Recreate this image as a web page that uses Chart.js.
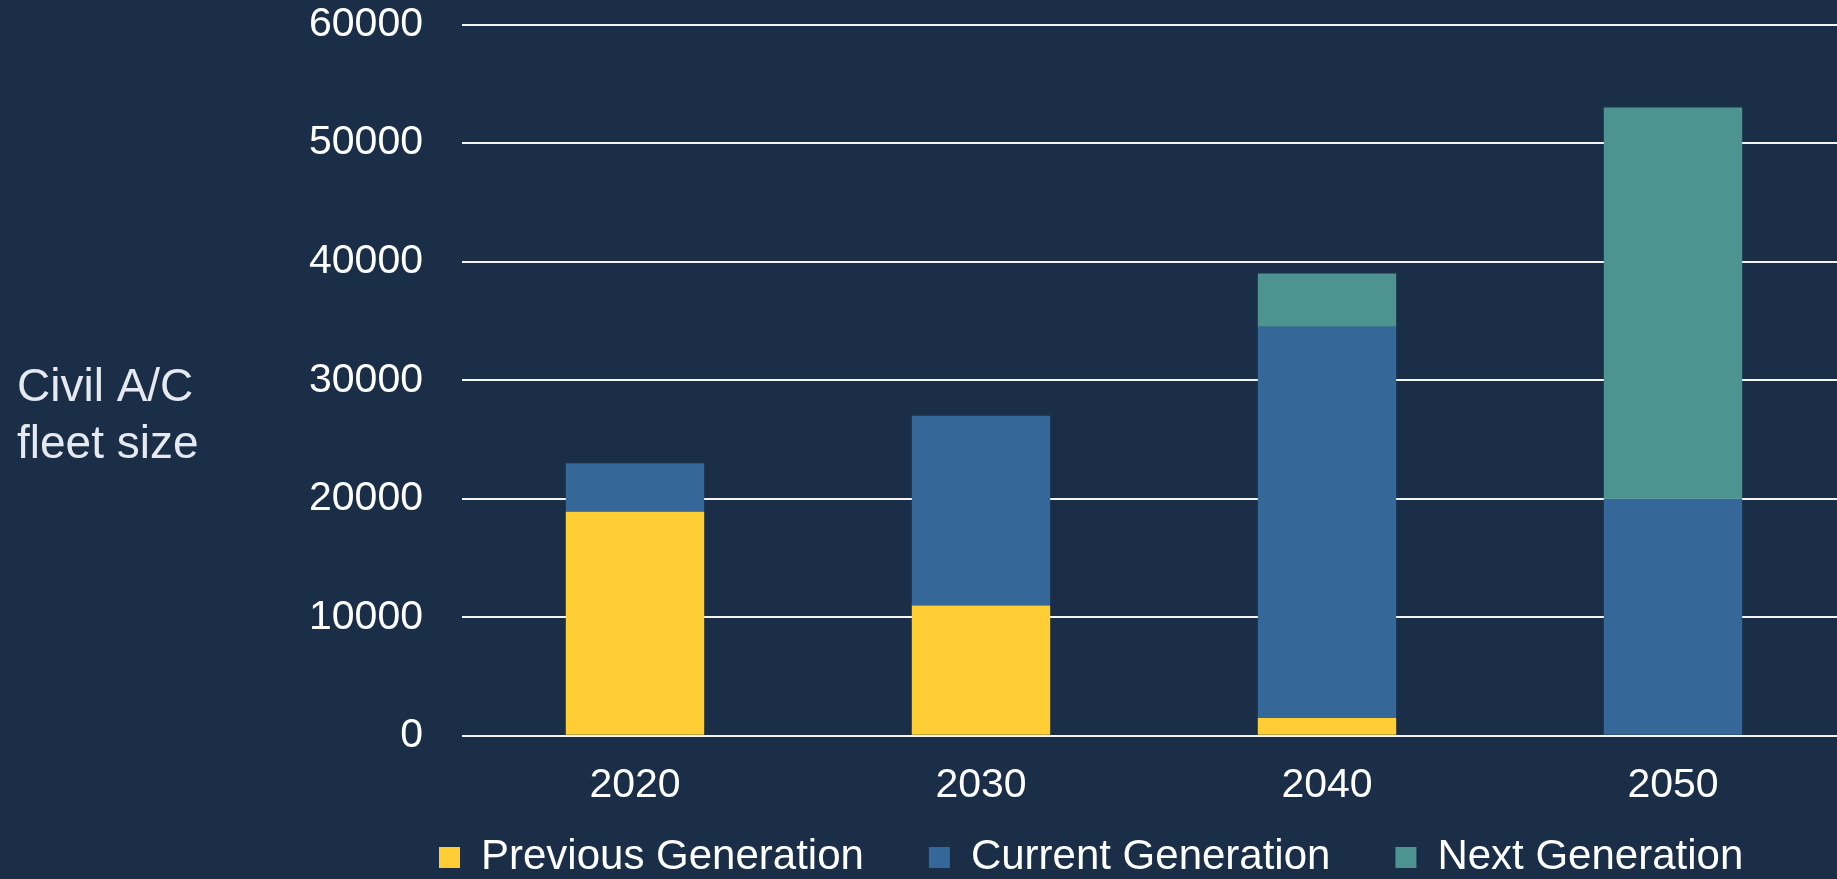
<!DOCTYPE html>
<html><head><meta charset="utf-8">
<script src="https://cdn.jsdelivr.net/npm/chart.js@4.4.0/dist/chart.umd.min.js"></script>
<style>
html,body{margin:0;padding:0;background:#1b2e48;overflow:hidden;width:1837px;height:879px;}
canvas{display:block;}
</style></head><body>
<canvas id="c" width="1846" height="927" style="width:1846px;height:927px"></canvas>
<script>
const categories = ['2020', '2030', '2040', '2050'];
const previousGeneration = [18900, 11000, 1500, 0];
const currentGeneration = [4100, 16000, 33000, 20000];
const nextGeneration = [0, 0, 4500, 33000];
const yTickValues = [0, 10000, 20000, 30000, 40000, 50000, 60000];
const seriesLabels = ['Previous Generation', 'Current Generation', 'Next Generation'];
const seriesColors = ['#ffcd34', '#356798', '#4d9491'];
const axisTitleLines = ['Civil A/C', 'fleet size'];

const FONT = '"Liberation Sans", Arial, sans-serif';
const BG = '#1b2e48';

const bgPlugin = {
  id: 'bg',
  beforeDraw(chart) {
    const ctx = chart.ctx;
    ctx.save();
    ctx.fillStyle = BG;
    ctx.fillRect(0, 0, chart.width, chart.height);
    ctx.restore();
  }
};

const legendPlacePlugin = {
  id: 'legendPlace',
  afterLayout(chart) {
    const lg = chart.legend;
    if (!lg) return;
    const dx = 374, dy = -38.5;
    lg.left += dx; lg.right += dx;
    lg.top += dy; lg.bottom += dy;
  }
};

const axisTitlePlugin = {
  id: 'axisTitle',
  afterDraw(chart) {
    const ctx = chart.ctx;
    ctx.save();
    ctx.font = '46px ' + FONT;
    ctx.fillStyle = '#e6eaf0';
    ctx.textAlign = 'left';
    ctx.textBaseline = 'alphabetic';
    axisTitleLines.forEach((t, i) => ctx.fillText(t, 17, 401 + i * 57));
    ctx.restore();
  }
};

const seriesData = [previousGeneration, currentGeneration, nextGeneration];

new Chart(document.getElementById('c'), {
  type: 'bar',
  data: {
    labels: categories,
    datasets: seriesLabels.map((label, i) => ({
      label,
      data: seriesData[i],
      backgroundColor: seriesColors[i],
      borderWidth: 0,
      categoryPercentage: 1,
      barPercentage: 0.4
    }))
  },
  options: {
    responsive: false,
    animation: false,
    devicePixelRatio: 1,
    layout: { padding: { top: 23, left: 0, right: 0, bottom: 0 } },
    plugins: {
      legend: {
        position: 'bottom',
        align: 'start',
        labels: {
          boxWidth: 21,
          boxHeight: 21,
          padding: 65,
          color: '#ffffff',
          font: { family: FONT, size: 42 }
        }
      },
      tooltip: { enabled: false }
    },
    scales: {
      x: {
        stacked: true,
        grid: { display: false, drawTicks: false },
        border: { display: false },
        ticks: {
          color: '#ffffff',
          padding: 25,
          font: { family: FONT, size: 41 },
          maxRotation: 0
        },
        afterFit(scale) { scale.height = 74.2; }
      },
      y: {
        stacked: true,
        min: 0,
        max: 60000,
        afterBuildTicks(scale) { scale.ticks = yTickValues.map(v => ({ value: v })); },
        grid: { color: '#f4f4f4', lineWidth: 2, drawTicks: true, tickLength: 39, tickColor: 'rgba(0,0,0,0)' },
        border: { display: false },
        ticks: {
          color: '#ffffff',
          padding: 0,
          font: { family: FONT, size: 41 },
          callback: v => String(v)
        },
        afterFit(scale) { scale.width = 462; }
      }
    }
  },
  plugins: [bgPlugin, legendPlacePlugin, axisTitlePlugin]
});
</script>
</body></html>
